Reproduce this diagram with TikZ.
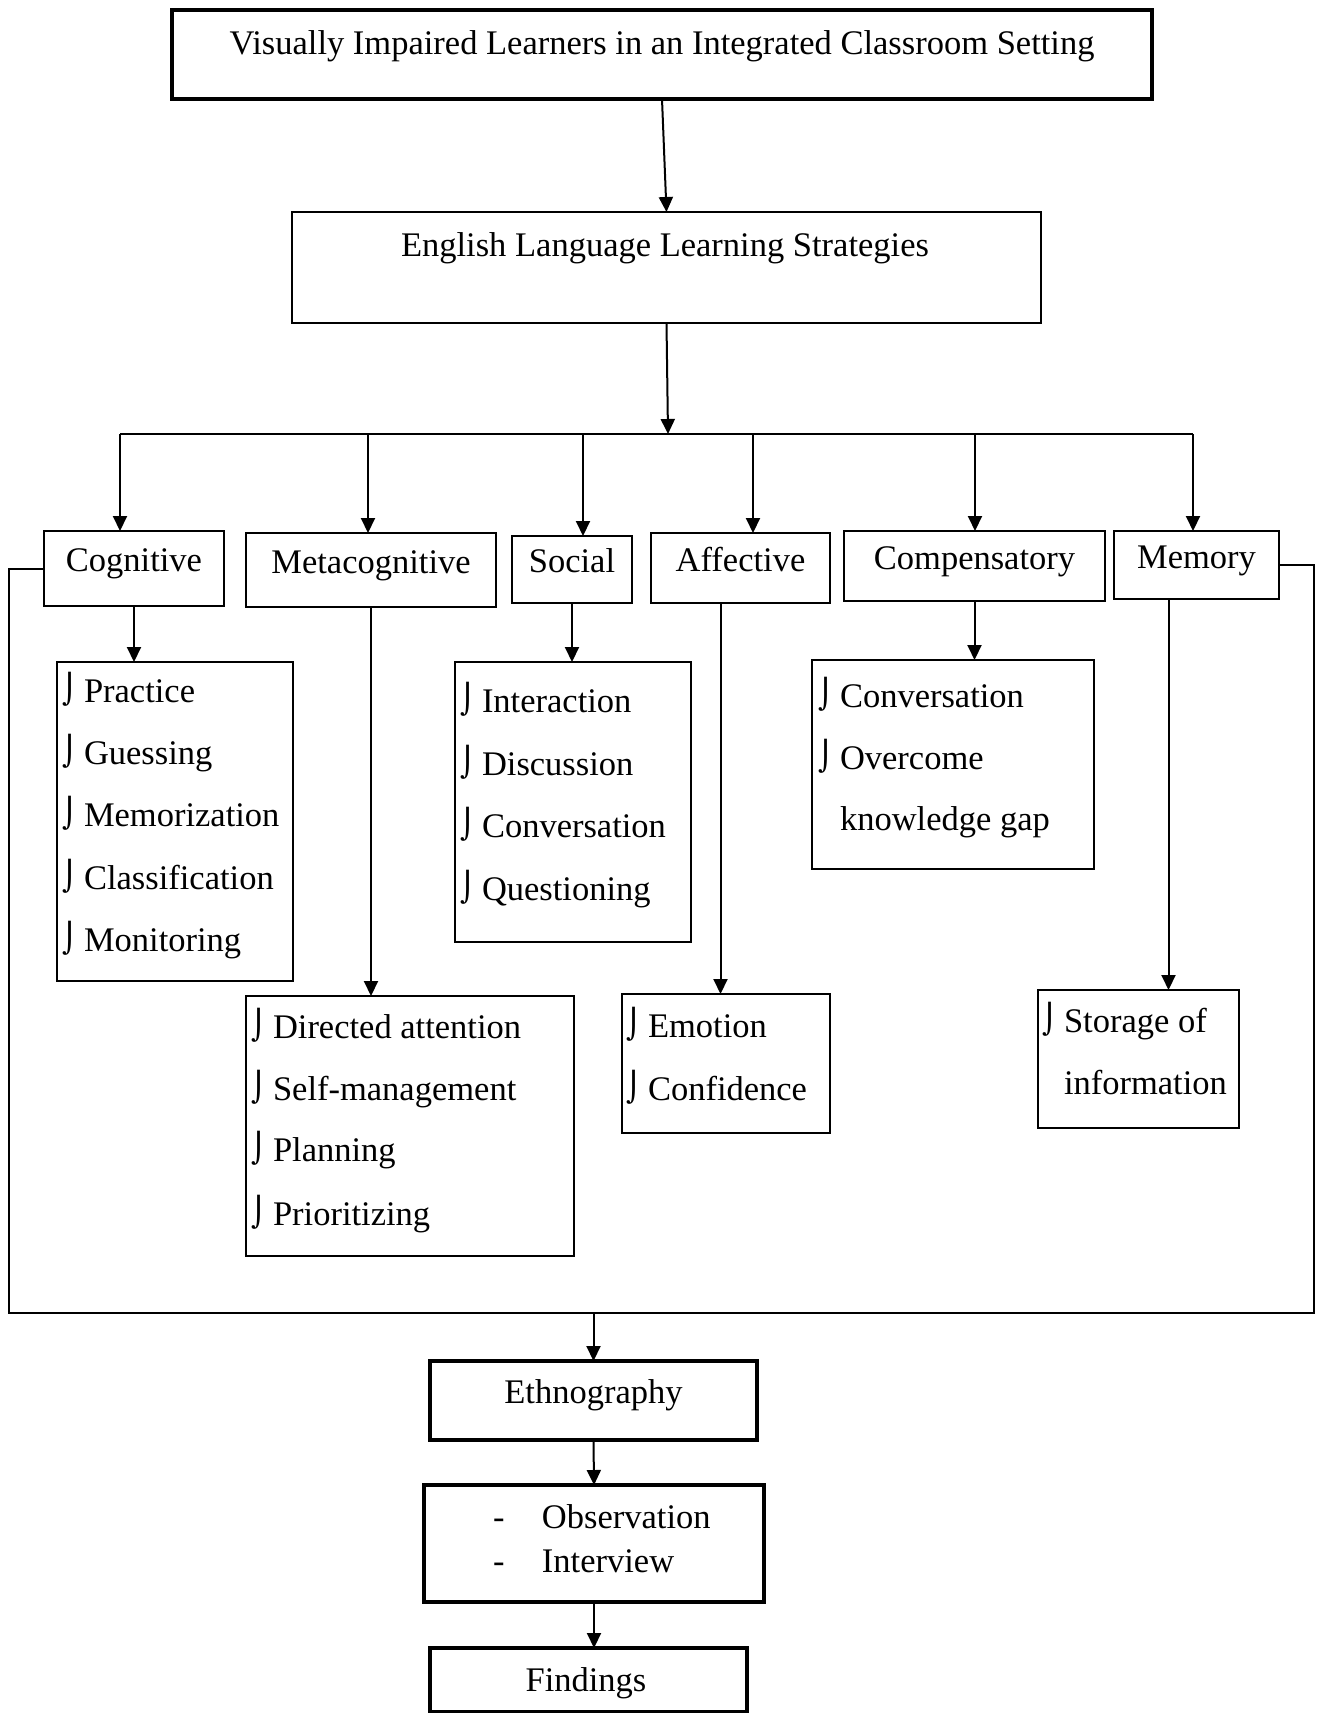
\documentclass[tikz,border=0pt]{standalone}
\usepackage{fontspec}
\setmainfont{Liberation Serif}
\newfontfamily\symfont{DejaVu Serif}
\usetikzlibrary{arrows.meta,positioning}
\newcommand{\bl}{\makebox[22pt][l]{\raisebox{3pt}{\symfont\fontsize{29}{30}\selectfont ⌡}}}

\begin{document}
\begin{tikzpicture}
[x=1pt,y=-1pt,
 >={Triangle[length=15pt,width=14pt]},
 every node/.style={font=\fontsize{34.5}{40}\selectfont,inner sep=0pt,outer sep=0pt},
 box/.style={draw,line width=2.2pt,text height=0.8em,text depth=0.15em},
 heavybox/.style={box,line width=3.4pt},
 item/.style={anchor=base west},
 link/.style={line width=2pt}]
\useasboundingbox (0,0) rectangle (1322,1713);

\node[heavybox,minimum width=980pt,minimum height=89pt] (top) at (662,54.5) {};
\node (toptxt) at (662,54) [anchor=base] {Visually Impaired Learners in an Integrated Classroom Setting};
\node[box,minimum width=749pt,minimum height=111pt] (ells) at (666.5,267.5) {};
\node (ellstxt) at (665,256) [anchor=base] {English Language Learning Strategies};

\draw [link,->] (top.south) -- (ells.north);

\coordinate (bus) at (668,434);
\coordinate (busl) at (120,434);
\coordinate (busr) at (1193,434);
\draw [link,->] (ells.south) -- (bus);
\draw [link] (busl) -- (busr);

\node[box,minimum width=180pt,minimum height=75pt] (cog) at (134,568.5) {Cognitive};
\node[box,minimum width=250pt,minimum height=74pt] (meta) at (371,570) {Metacognitive};
\node[box,minimum width=120pt,minimum height=67pt] (soc) at (572,569.5) {Social};
\node[box,minimum width=179pt,minimum height=70pt] (aff) at (740.5,568) {Affective};
\node[box,minimum width=261pt,minimum height=70pt] (comp) at (974.5,566) {Compensatory};
\node[box,minimum width=165pt,minimum height=68pt] (mem) at (1196.5,565) {Memory};

\coordinate (b2) at (368,434);
\coordinate (b3) at (583,434);
\coordinate (b4) at (753,434);
\coordinate (b5) at (975,434);
\draw [link,->] (busl) -- (busl |- cog.north);
\draw [link,->] (b2) -- (b2 |- meta.north);
\draw [link,->] (b3) -- (b3 |- soc.north);
\draw [link,->] (b4) -- (b4 |- aff.north);
\draw [link,->] (b5) -- (b5 |- comp.north);
\draw [link,->] (busr) -- (busr |- mem.north);

\node[box,minimum width=236pt,minimum height=319pt] (cogl) at (175,821.5) {};
\node[item] (cog1) at (62,702) {\bl Practice};
\node[item] (cog2) at (62,764) {\bl Guessing};
\node[item] (cog3) at (62,826) {\bl Memorization};
\node[item] (cog4) at (62,889) {\bl Classification};
\node[item] (cog5) at (62,951) {\bl Monitoring};

\node[box,minimum width=328pt,minimum height=260pt] (metal) at (410,1126) {};
\node[item] (meta1) at (251,1038) {\bl Directed attention};
\node[item] (meta2) at (251,1100) {\bl Self-management};
\node[item] (meta3) at (251,1161) {\bl Planning};
\node[item] (meta4) at (251,1225) {\bl Prioritizing};

\node[box,minimum width=236pt,minimum height=280pt] (socl) at (573,802) {};
\node[item] (soc1) at (460,712) {\bl Interaction};
\node[item] (soc2) at (460,775) {\bl Discussion};
\node[item] (soc3) at (460,837) {\bl Conversation};
\node[item] (soc4) at (460,900) {\bl Questioning};

\node[box,minimum width=208pt,minimum height=139pt] (affl) at (726,1063.5) {};
\node[item] (aff1) at (626,1037) {\bl Emotion};
\node[item] (aff2) at (626,1100) {\bl Confidence};

\node[box,minimum width=282pt,minimum height=209pt] (compl) at (953,764.5) {};
\node[item] (comp1) at (818,707) {\bl Conversation};
\node[item] (comp2) at (818,769) {\bl Overcome};
\node[item] (comp3) at (840,830) {knowledge gap};

\node[box,minimum width=201pt,minimum height=138pt] (meml) at (1138.5,1059) {};
\node[item] (mem1) at (1042,1032) {\bl Storage of};
\node[item] (mem2) at (1064,1094) {information};

\draw [link,->] (cog.south) -- (cog.south |- cogl.north);
\draw [link,->] (meta.south) -- (meta.south |- metal.north);
\draw [link,->] (soc.south) -- (soc.south |- socl.north);
\draw [link,->] ([xshift=-20pt]aff.south) -- ([xshift=-20pt]aff.south |- affl.north);
\draw [link,->] (comp.south) -- (comp.south |- compl.north);
\draw [link,->] ([xshift=-28pt]mem.south) -- ([xshift=-28pt]mem.south |- meml.north);

\coordinate (fbl) at (9,1313);
\coordinate (fbr) at (1314,1313);
\draw [link] (cog.west) -| (fbl) -- (fbr) |- (mem.east);

\node[heavybox,minimum width=327pt,minimum height=79pt] (ethno) at (593.5,1400.5) {Ethnography};
\node[heavybox,minimum width=340pt,minimum height=117pt] (obs) at (594,1543.5) {};
\node[item] (obs1) at (493,1528) {\makebox[49pt][l]{-}Observation};
\node[item] (obs2) at (493,1572) {\makebox[49pt][l]{-}Interview};
\node[heavybox,minimum width=317pt,minimum height=64pt] (find) at (588.5,1680) {};
\node (findtxt) at (586,1691) [anchor=base] {Findings};

\draw [link,->] (ethno.north |- fbl) -- (ethno.north);
\draw [link,->] (ethno.south) -- (obs.north);
\draw [link,->] (obs.south) -- (obs.south |- find.north);
\end{tikzpicture}
\end{document}
